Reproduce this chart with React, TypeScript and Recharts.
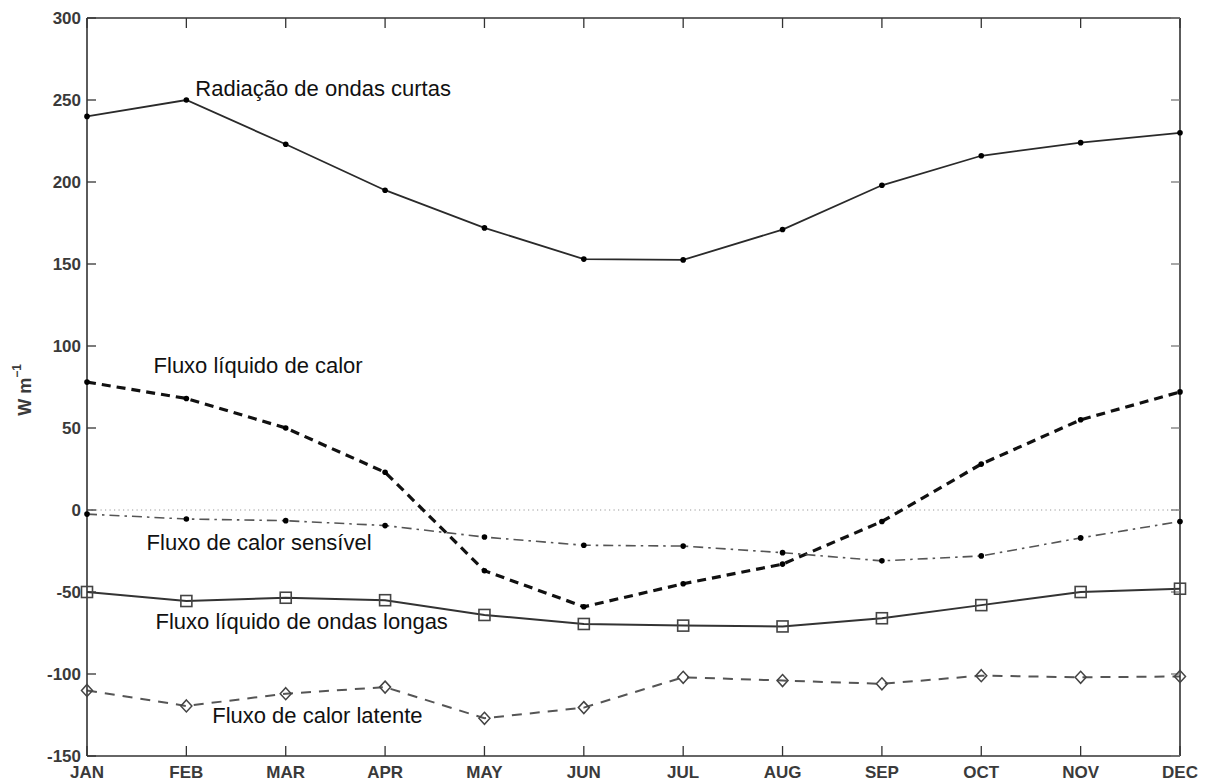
import React from 'react';
import {
  LineChart,
  Line,
  XAxis,
  YAxis,
  ReferenceLine,
  ReferenceDot,
  Label,
} from 'recharts';

// Month categories (x positions are the month index 0..11)
const MONTHS = ['JAN', 'FEB', 'MAR', 'APR', 'MAY', 'JUN', 'JUL', 'AUG', 'SEP', 'OCT', 'NOV', 'DEC'];

// Monthly mean surface heat-flux components, W m^-1
const shortwave = [240, 250, 223, 195, 172, 153, 152.5, 171, 198, 216, 224, 230];
const netHeat = [78, 68, 50, 23, -37, -59, -45, -33, -7, 28, 55, 72];
const sensible = [-2.5, -5.5, -6.5, -9.5, -16.5, -21.5, -22, -26, -31, -28, -17, -7];
const longwave = [-50, -55.5, -53.5, -55, -64, -69.5, -70.5, -71, -66, -58, -50, -48];
const latent = [-110, -119.5, -112, -108, -127, -120.5, -102, -104, -106, -101, -102, -101.5];

const Y_TICKS = [-150, -100, -50, 0, 50, 100, 150, 200, 250, 300];
const Y_DOMAIN: [number, number] = [-150, 300];
const X_TICKS = MONTHS.map((_, i) => i);
const X_DOMAIN: [number, number] = [0, 11];

// Curve labels: [text, month-index where text starts, value at text centre]
const CURVE_LABELS: [string, number, number][] = [
  ['Radiação de ondas curtas', 1.09, 257],
  ['Fluxo líquido de calor', 0.67, 88],
  ['Fluxo de calor sensível', 0.6, -19.6],
  ['Fluxo líquido de ondas longas', 0.69, -68],
  ['Fluxo de calor latente', 1.26, -125],
];

const data = MONTHS.map((m, i) => ({
  idx: i,
  month: m,
  shortwave: shortwave[i],
  netHeat: netHeat[i],
  sensible: sensible[i],
  longwave: longwave[i],
  latent: latent[i],
}));

const FONT = '"Liberation Sans", Arial, Helvetica, sans-serif';
const AXIS_COLOR = '#333';

const tickStyle = { fontFamily: FONT, fontSize: 17, fontWeight: 700, fill: '#3a3a3a' };

// tick marks only, no tick text
const noText = () => <g />;

const smallDot = (fill: string) => (p: any) => (
  <circle key={`d-${p.index}`} cx={p.cx} cy={p.cy} r={2.8} fill={fill} stroke="none" />
);

const squareDot = (p: any) => (
  <rect
    key={`s-${p.index}`}
    x={p.cx - 5.5}
    y={p.cy - 5.5}
    width={11}
    height={11}
    fill="none"
    stroke="#444"
    strokeWidth={1.6}
  />
);

const diamondDot = (p: any) => (
  <path
    key={`m-${p.index}`}
    d={`M${p.cx},${p.cy - 6} L${p.cx + 5.5},${p.cy} L${p.cx},${p.cy + 6} L${p.cx - 5.5},${p.cy} Z`}
    fill="none"
    stroke="#444"
    strokeWidth={1.5}
  />
);

const UnitLabel = (props: any) => {
  const vb = props.viewBox || {};
  const cx = vb.x + 25;
  const cy = vb.y + vb.height / 2 + 3;
  return (
    <text
      x={cx}
      y={cy}
      transform={`rotate(-90, ${cx}, ${cy})`}
      textAnchor="middle"
      dominantBaseline="central"
      fontFamily={FONT}
      fontSize={18}
      fontWeight={700}
      fill="#3a3a3a"
    >
      W m
      <tspan dy={-8} fontSize={12}>
        −1
      </tspan>
    </text>
  );
};

export default function App() {
  return (
    <div style={{ position: 'absolute', left: 0, top: 0, background: '#fff' }}>
      <LineChart
        width={1208}
        height={781}
        data={data}
        margin={{ top: 18, right: 28, bottom: 0, left: 0 }}
      >
        {/* bottom axis: month labels */}
        <XAxis
          xAxisId="b"
          dataKey="idx"
          type="number"
          domain={X_DOMAIN}
          ticks={X_TICKS}
          interval={0}
          tickFormatter={(v: number) => MONTHS[v]}
          height={25}
          tickSize={0}
          tickMargin={10}
          tickLine={false}
          axisLine={{ stroke: AXIS_COLOR, strokeWidth: 1.6 }}
          tick={tickStyle}
        />
        {/* bottom axis: inward tick marks */}
        <XAxis
          xAxisId="bm"
          dataKey="idx"
          type="number"
          domain={X_DOMAIN}
          ticks={X_TICKS}
          interval={0}
          mirror
          tick={noText}
          tickSize={10}
          axisLine={false}
          tickLine={{ stroke: AXIS_COLOR, strokeWidth: 1.3 }}
          height={25}
        />
        {/* top box edge with inward ticks */}
        <XAxis
          xAxisId="t"
          orientation="top"
          dataKey="idx"
          type="number"
          domain={X_DOMAIN}
          ticks={X_TICKS}
          interval={0}
          mirror
          tick={noText}
          tickSize={10}
          axisLine={{ stroke: AXIS_COLOR, strokeWidth: 1.6 }}
          tickLine={{ stroke: AXIS_COLOR, strokeWidth: 1.3 }}
        />
        {/* left axis: value labels */}
        <YAxis
          yAxisId="l"
          domain={Y_DOMAIN}
          ticks={Y_TICKS}
          interval={0}
          width={87}
          tickSize={0}
          tickMargin={6}
          tickLine={false}
          axisLine={{ stroke: AXIS_COLOR, strokeWidth: 1.6 }}
          tick={tickStyle}
        >
          <Label content={<UnitLabel />} />
        </YAxis>
        {/* left axis: inward tick marks */}
        <YAxis
          yAxisId="lm"
          domain={Y_DOMAIN}
          ticks={Y_TICKS}
          interval={0}
          mirror
          tick={noText}
          tickSize={9}
          axisLine={false}
          tickLine={{ stroke: AXIS_COLOR, strokeWidth: 1.3 }}
        />
        {/* right box edge with inward ticks */}
        <YAxis
          yAxisId="r"
          orientation="right"
          domain={Y_DOMAIN}
          ticks={Y_TICKS}
          interval={0}
          mirror
          tick={noText}
          tickSize={9}
          axisLine={{ stroke: AXIS_COLOR, strokeWidth: 1.6 }}
          tickLine={{ stroke: '#777', strokeWidth: 1.3 }}
        />

        <ReferenceLine
          xAxisId="b"
          yAxisId="l"
          y={0}
          stroke="#999"
          strokeWidth={1.2}
          strokeDasharray="1.2 3.3"
        />

        {/* all axis pairs share identical domains, so every curve lands on the same scale */}
        <Line
          xAxisId="t"
          yAxisId="r"
          dataKey="shortwave"
          stroke="#2a2a2a"
          strokeWidth={1.8}
          dot={smallDot('#000')}
          isAnimationActive={false}
        />
        <Line
          xAxisId="bm"
          yAxisId="lm"
          dataKey="netHeat"
          stroke="#111"
          strokeWidth={3.2}
          strokeDasharray="9 6"
          dot={smallDot('#000')}
          isAnimationActive={false}
        />
        <Line
          xAxisId="b"
          yAxisId="l"
          dataKey="sensible"
          stroke="#555"
          strokeWidth={1.6}
          strokeDasharray="10 5 2.5 5"
          dot={smallDot('#000')}
          isAnimationActive={false}
        />
        <Line
          xAxisId="b"
          yAxisId="l"
          dataKey="longwave"
          stroke="#333"
          strokeWidth={2}
          dot={squareDot}
          isAnimationActive={false}
        />
        <Line
          xAxisId="b"
          yAxisId="l"
          dataKey="latent"
          stroke="#555"
          strokeWidth={2}
          strokeDasharray="10 8"
          dot={diamondDot}
          isAnimationActive={false}
        />

        {CURVE_LABELS.map(([text, x, y]) => (
          <ReferenceDot
            key={text}
            xAxisId="b"
            yAxisId="l"
            x={x}
            y={y}
            r={0}
            fill="none"
            stroke="none"
            ifOverflow="visible"
            label={{
              value: text,
              position: 'right',
              offset: 0,
              fontFamily: FONT,
              fontSize: 22,
              fill: '#111',
            }}
          />
        ))}
      </LineChart>
    </div>
  );
}
